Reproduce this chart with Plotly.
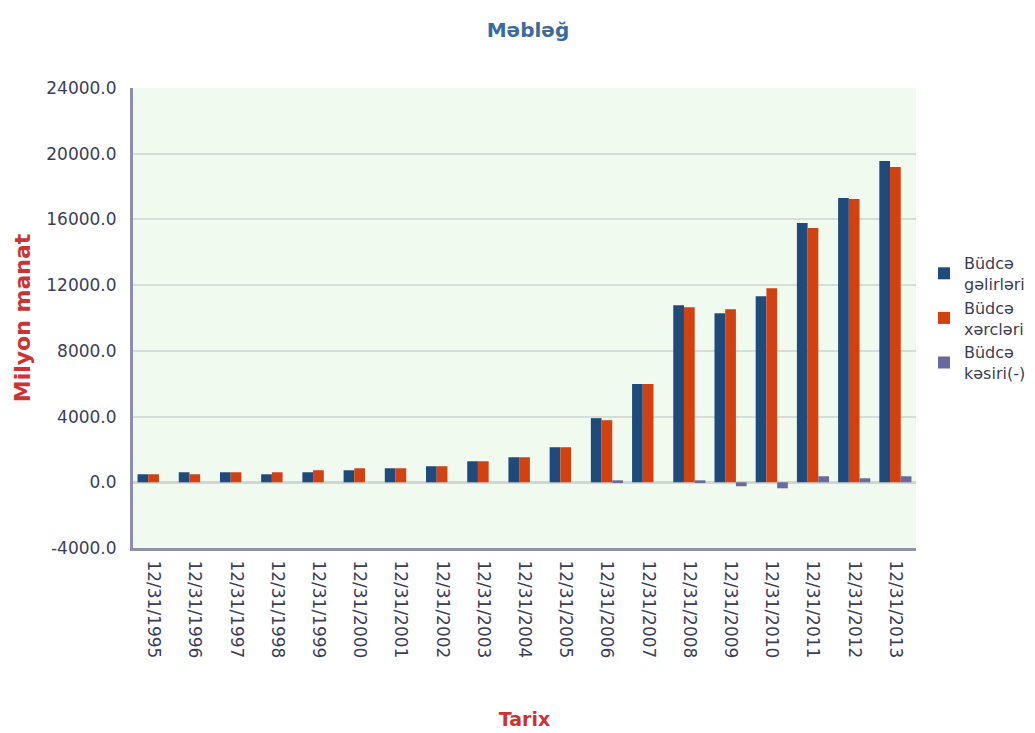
import plotly.graph_objects as go

dates = ["12/31/1995", "12/31/1996", "12/31/1997", "12/31/1998", "12/31/1999",
         "12/31/2000", "12/31/2001", "12/31/2002", "12/31/2003", "12/31/2004",
         "12/31/2005", "12/31/2006", "12/31/2007", "12/31/2008", "12/31/2009",
         "12/31/2010", "12/31/2011", "12/31/2012", "12/31/2013"]

revenue = [488, 610, 610, 488, 610, 732, 854, 976, 1280, 1524, 2134,
           3902, 5976, 10781, 10294, 11330, 15776, 17299, 19553]
expenditure = [488, 488, 610, 610, 732, 854, 854, 976, 1280, 1524, 2134,
               3780, 5976, 10660, 10538, 11817, 15472, 17238, 19187]
deficit = [0, 0, 0, 0, 0, 0, 0, 0, 0, 0, 0,
           120, 0, 120, -240, -366, 366, 244, 366]

series_names = ["Büdcə<br>gəlirləri", "Büdcə<br>xərcləri", "Büdcə<br>kəsiri(-)"]
series_colors = ["#1f4b7c", "#d2410f", "#6a6a9e"]

y_ticks = [-4000, 0, 4000, 8000, 12000, 16000, 20000, 24000]
y_tick_labels = ["-4000.0", "0.0", "4000.0", "8000.0", "12000.0",
                 "16000.0", "20000.0", "24000.0"]

# page body has an 8px margin, so the figure is offset by 8px
W, H = 1027, 725
ML, MR, MT, MB = 125, 4, 80, 185
plot_right = 908
paper_w = W - ML - MR
x_dom_end = (plot_right - ML) / paper_w

fig = go.Figure()
for name, vals, col in zip(series_names, [revenue, expenditure, deficit], series_colors):
    fig.add_trace(go.Bar(x=dates, y=vals, name=name,
                         marker=dict(color=col, line=dict(width=0))))

fig.update_layout(
    width=W, height=H,
    barmode="group", bargap=0.22, bargroupgap=0,
    paper_bgcolor="white", plot_bgcolor="#f1faee",
    margin=dict(l=ML, r=MR, t=MT, b=MB, autoexpand=False),
    font=dict(family="DejaVu Sans", color="#3c3e58"),
    title=dict(text="<b>Məbləğ</b>", x=0.5063, xref="container", xanchor="center",
               y=0.970, yref="container", yanchor="middle",
               font=dict(size=20, color="#3a6aa0")),
    legend=dict(x=(916 - ML) / paper_w, xanchor="left", y=0.5, yanchor="middle",
                font=dict(size=16, color="#3b3d55"), tracegroupgap=2,
                bgcolor="rgba(0,0,0,0)", itemwidth=30),
    showlegend=True,
)

fig.update_xaxes(
    type="category", tickangle=90, tickfont=dict(size=17, color="#3c3e58"),
    domain=[0, x_dom_end], automargin=False,
    showline=True, linecolor="#8d8fad", linewidth=3, mirror=False,
    showgrid=False, ticks="", ticklabelstandoff=6,
    title=dict(text="<b>Tarix</b>", font=dict(size=19, color="#cc3333"), standoff=56),
)

fig.update_yaxes(
    range=[-4000, 24000], tickvals=y_ticks, ticktext=y_tick_labels,
    tickfont=dict(size=17, color="#3c3e58"), automargin=False,
    showline=True, linecolor="#8d8fad", linewidth=3,
    showgrid=True, gridcolor="#d6dcd9", gridwidth=2,
    zeroline=True, zerolinecolor="#d0d6d4", zerolinewidth=3,
    ticks="", ticklabelstandoff=10,
    title=dict(text="<b>Milyon manat</b>", font=dict(size=22, color="#cc3333"), standoff=10),
)

fig.write_html("out.html")
